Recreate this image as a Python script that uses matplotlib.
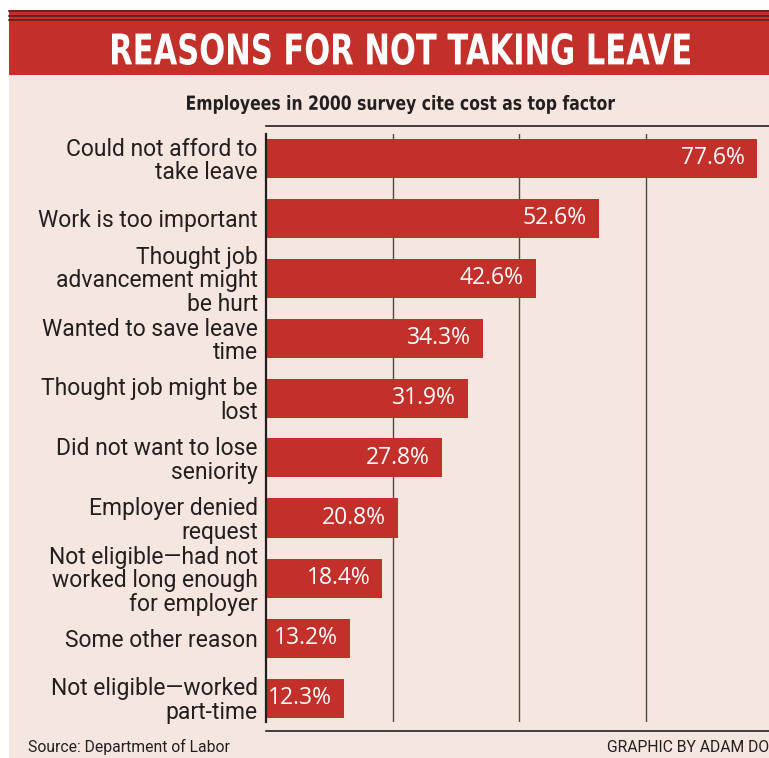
import matplotlib
matplotlib.use("Agg")
import matplotlib.pyplot as plt
from matplotlib.lines import Line2D
from matplotlib.patches import Rectangle, PathPatch
from matplotlib.textpath import TextPath
from matplotlib.font_manager import FontProperties
from matplotlib.transforms import Affine2D

# Data
reasons = [
    "Could not afford to\ntake leave",
    "Work is too important",
    "Thought job\nadvancement might\nbe hurt",
    "Wanted to save leave\ntime",
    "Thought job might be\nlost",
    "Did not want to lose\nseniority",
    "Employer denied\nrequest",
    "Not eligible\u2014had not\nworked long enough\nfor employer",
    "Some other reason",
    "Not eligible\u2014worked\npart-time",
]
percents = [77.6, 52.6, 42.6, 34.3, 31.9, 27.8, 20.8, 18.4, 13.2, 12.3]
grid_ticks = [20, 40, 60]
title = "REASONS FOR NOT TAKING LEAVE"
subtitle = "Employees in 2000 survey cite cost as top factor"

red = "#C3302A"
bg = "#F6E6E0"
dark = "#231F20"

W, H = 769, 758
fig = plt.figure(figsize=(W / 100, H / 100), dpi=100)
fig.patch.set_facecolor("white")

def fx(px):
    return px / W

def fy(py):
    return 1 - py / H

def squeezed_text(s, x0, y_bottom, width, height, color):
    # bold text drawn as a path and squeezed into a pixel box (condensed look)
    tp = TextPath((0, 0), s, size=40, prop=FontProperties(family="DejaVu Sans", weight="bold"))
    bb = tp.get_extents()
    tr = (Affine2D().translate(-bb.x0, -bb.y0)
          .scale(width / bb.width, height / bb.height)
          .translate(x0, H - y_bottom)
          .scale(1 / W, 1 / H))
    fig.add_artist(PathPatch(tp, facecolor=color, edgecolor="none",
                             transform=tr + fig.transFigure, zorder=3))

# background panel and banner
fig.patches.append(Rectangle((fx(9), 0), 1, fy(20), transform=fig.transFigure,
                             facecolor=bg, edgecolor="none", zorder=0))
fig.patches.append(Rectangle((fx(9), fy(75)), 1, fy(10) - fy(75), transform=fig.transFigure,
                             facecolor=red, edgecolor="none", zorder=1))
for yy in [11, 15.5, 19.5]:
    fig.add_artist(Line2D([fx(9), 1], [fy(yy), fy(yy)], color="#5a1e1a", lw=1.2, zorder=2))

squeezed_text(title, 112, 65, 578, 32, "white")
squeezed_text(subtitle, 187, 114, 428, 19, dark)

# horizontal rules above and below the chart
fig.add_artist(Line2D([fx(266), 1], [fy(126), fy(126)], color=dark, lw=1.2, zorder=3))
fig.add_artist(Line2D([fx(266), 1], [fy(731), fy(731)], color=dark, lw=1.2, zorder=3))

ax = fig.add_axes([fx(266), fy(722), 1 - fx(266), fy(134) - fy(722)])
ax.set_zorder(5)
ax.set_facecolor("none")
ypos = list(range(len(reasons)))
ax.barh(ypos, percents, height=0.65, color=red, zorder=2)
ax.set_xlim(0, (W - 266) / 6.33)
ax.set_ylim(len(reasons) - 0.6, -0.4)
for g in grid_ticks:
    ax.axvline(g, color="#4a4a4a", lw=1.0, zorder=1)

for spine in ["top", "right", "bottom"]:
    ax.spines[spine].set_visible(False)
ax.spines["left"].set_color(dark)
ax.spines["left"].set_linewidth(1.6)
ax.set_xticks([])
ax.set_yticks(ypos)
ax.set_yticklabels(reasons, fontsize=16.5, color=dark, family="Roboto", linespacing=1.04)
ax.tick_params(axis="y", length=0, pad=6)
for lbl in ax.get_yticklabels():
    lbl.set_horizontalalignment("right")

for y, v in zip(ypos, percents):
    ax.text(v - 1.9, y, f"{v:.1f}%", color="white", fontsize=16.5, family="Open Sans",
            ha="right", va="center", zorder=3)

fig.text(fx(28), fy(747), "Source: Department of Labor", color=dark, fontsize=11.3,
         family="Roboto", ha="left", va="center", zorder=3)
fig.text(1.0, fy(747), "GRAPHIC BY ADAM DO", color=dark, fontsize=11.3,
         family="Roboto", ha="right", va="center", zorder=3)

fig.savefig("out.png", dpi=100, facecolor=fig.get_facecolor())
